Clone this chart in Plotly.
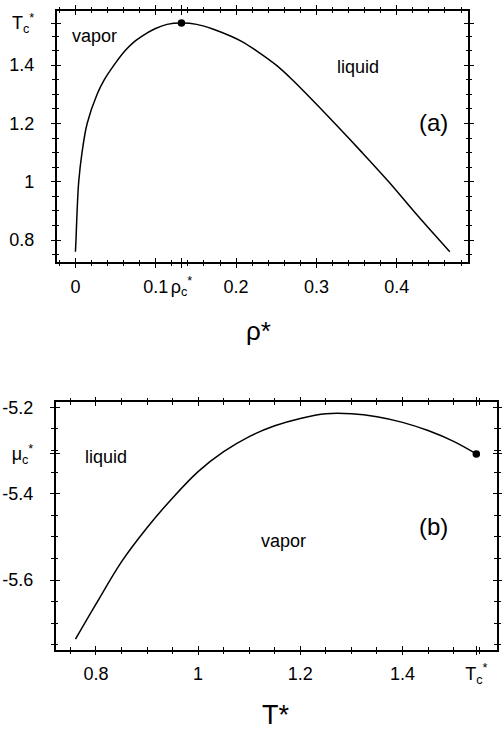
import plotly.graph_objects as go

# ---------------- data: panel (a) coexistence curve ----------------
T_coex = [0.76, 0.8, 0.9, 1.0, 1.1, 1.2, 1.3, 1.35, 1.4, 1.45, 1.48, 1.5, 1.525, 1.54, 1.5445]
rho_vapor = [0.0, 0.0007, 0.0021, 0.0041, 0.0082, 0.0146, 0.027, 0.036, 0.048, 0.062,
             0.073, 0.083, 0.099, 0.114, 0.132]
rho_liquid = [0.466, 0.453, 0.421, 0.390, 0.357, 0.323, 0.288, 0.270, 0.250, 0.225,
              0.208, 0.193, 0.170, 0.151, 0.132]
rho_crit = [0.132]
T_crit = [1.5445]

rho_tickvals = [0, 0.1, 0.132, 0.2, 0.3, 0.4]
rho_ticktext = ["0", "0.1", "ρ<sub>c</sub><sup>*</sup>", "0.2", "0.3", "0.4"]
Ta_tickvals = [0.8, 1.0, 1.2, 1.4, 1.5445]
Ta_ticktext = ["0.8", "1", "1.2", "1.4", "T<sub>c</sub><sup>*</sup>"]

# ---------------- data: panel (b) chemical potential ----------------
T_mu = [0.76, 0.8, 0.85, 0.9, 0.95, 1.0, 1.05, 1.1, 1.15, 1.2, 1.25, 1.3,
        1.35, 1.4, 1.45, 1.5, 1.5445]
mu = [-5.737, -5.656, -5.558, -5.479, -5.410, -5.349, -5.303, -5.268, -5.243,
      -5.226, -5.215, -5.215, -5.222, -5.235, -5.254, -5.279, -5.308]
mu_crit = [-5.308]

Tb_tickvals = [0.8, 1.0, 1.2, 1.4, 1.5445]
Tb_ticktext = ["0.8", "1", "1.2", "1.4", "T<sub>c</sub><sup>*</sup>"]
mu_tickvals = [-5.2, -5.308, -5.4, -5.6]
mu_ticktext = ["-5.2", "μ<sub>c</sub><sup>*</sup>", "-5.4", "-5.6"]

W, H = 502, 730
FONT = "Liberation Sans, Arial, Helvetica, sans-serif"


def minor_vals(start, stop, step, skip):
    n = int(round((stop - start) / step))
    vals = [round(start + i * step, 4) for i in range(n + 1)]
    return [v for v in vals if all(abs(v - s) > 1e-6 for s in skip)]


xa_minor = minor_vals(-0.02, 0.48, 0.02, [0, 0.1, 0.2, 0.3, 0.4])
ya_minor = minor_vals(0.75, 1.5, 0.05, [0.8, 1.0, 1.2, 1.4])
xb_minor = minor_vals(0.75, 1.55, 0.05, [0.8, 1.0, 1.2, 1.4])
yb_minor = minor_vals(-5.75, -5.2, 0.05, [-5.2, -5.4, -5.6])

curve_x = rho_vapor + rho_liquid[::-1][1:]
curve_y = T_coex + T_coex[::-1][1:]

fig = go.Figure()
fig.add_trace(go.Scatter(x=curve_x, y=curve_y, mode="lines",
                         line=dict(color="black", width=1.5, shape="spline", smoothing=1.0),
                         xaxis="x", yaxis="y", showlegend=False, hoverinfo="skip"))
fig.add_trace(go.Scatter(x=rho_crit, y=T_crit, mode="markers",
                         marker=dict(color="black", size=7.5),
                         xaxis="x", yaxis="y", showlegend=False))
fig.add_trace(go.Scatter(x=T_mu, y=mu, mode="lines",
                         line=dict(color="black", width=1.5, shape="spline", smoothing=1.0),
                         xaxis="x2", yaxis="y2", showlegend=False, hoverinfo="skip"))
fig.add_trace(go.Scatter(x=T_crit, y=mu_crit, mode="markers",
                         marker=dict(color="black", size=7.5),
                         xaxis="x2", yaxis="y2", showlegend=False))
# empty traces so the overlay (inside-tick) axes get drawn
fig.add_trace(go.Scatter(x=[None], y=[None], xaxis="x3", yaxis="y3", showlegend=False, hoverinfo="skip"))
fig.add_trace(go.Scatter(x=[None], y=[None], xaxis="x4", yaxis="y4", showlegend=False, hoverinfo="skip"))

xa_dom = [57 / W, 472 / W]
ya_dom = [1 - 259 / H, 1 - 6 / H]
xb_dom = [56 / W, 500.5 / W]
yb_dom = [1 - 649 / H, 1 - 400 / H]

xa_range = [-0.0235, 0.489]
ya_range = [0.724, 1.586]
xb_range = [0.721, 1.584]
yb_range = [-5.761, -5.1885]


def main_axis(dom, rng, tv, tt, anchor, mv, standoff):
    return dict(domain=dom, range=rng, anchor=anchor, tickmode="array",
                tickvals=tv, ticktext=tt, ticks="outside", ticklen=4, tickwidth=1.2,
                tickcolor="black", mirror="ticks", showline=True, linewidth=1.5,
                linecolor="black", showgrid=False, zeroline=False,
                tickfont=dict(family=FONT, size=18, color="black"),
                ticklabelstandoff=standoff,
                minor=dict(tickmode="array", tickvals=mv, ticks="outside",
                           ticklen=2.5, tickwidth=1, tickcolor="black", showgrid=False))


def overlay_axis(over, rng, tv, anchor, mv):
    return dict(overlaying=over, range=rng, anchor=anchor, tickmode="array",
                tickvals=tv, ticks="inside", ticklen=4, tickwidth=1.2,
                tickcolor="black", mirror="ticks", showline=False, showgrid=False,
                zeroline=False, showticklabels=False,
                minor=dict(tickmode="array", tickvals=mv, ticks="inside",
                           ticklen=2.5, tickwidth=1, tickcolor="black", showgrid=False))


fig.update_layout(
    width=W, height=H, margin=dict(l=0, r=0, t=0, b=0),
    paper_bgcolor="white", plot_bgcolor="white",
    font=dict(family=FONT, color="black"),
    xaxis=main_axis(xa_dom, xa_range, rho_tickvals, rho_ticktext, "y", xa_minor, 3),
    yaxis=main_axis(ya_dom, ya_range, Ta_tickvals, Ta_ticktext, "x", ya_minor, 13),
    xaxis2=main_axis(xb_dom, xb_range, Tb_tickvals, Tb_ticktext, "y2", xb_minor, 3),
    yaxis2=main_axis(yb_dom, yb_range, mu_tickvals, mu_ticktext, "x2", yb_minor, 13),
    xaxis3=overlay_axis("x", xa_range, rho_tickvals, "y", xa_minor),
    yaxis3=overlay_axis("y", ya_range, Ta_tickvals, "x", ya_minor),
    xaxis4=overlay_axis("x2", xb_range, Tb_tickvals, "y2", xb_minor),
    yaxis4=overlay_axis("y2", yb_range, mu_tickvals, "x2", yb_minor),
)

labels = [
    ("vapor", 0.0235, 1.501, "x", "y", 18),
    ("liquid", 0.352, 1.395, "x", "y", 18),
    ("(a)", 0.446, 1.205, "x", "y", 24),
    ("liquid", 0.82, -5.315, "x2", "y2", 18),
    ("vapor", 1.168, -5.51, "x2", "y2", 18),
    ("(b)", 1.46, -5.476, "x2", "y2", 24),
]
for txt, x, y, xr, yr, sz in labels:
    fig.add_annotation(text=txt, x=x, y=y, xref=xr, yref=yr, showarrow=False,
                       xanchor="center", yanchor="middle",
                       font=dict(family=FONT, size=sz, color="black"))

# axis titles
fig.add_annotation(text="ρ*", x=261 / W, y=1 - 328 / H, xref="paper", yref="paper",
                   showarrow=False, xanchor="center", yanchor="middle",
                   font=dict(family=FONT, size=26, color="black"))
fig.add_annotation(text="T*", x=278 / W, y=1 - 715 / H, xref="paper", yref="paper",
                   showarrow=False, xanchor="center", yanchor="middle",
                   font=dict(family=FONT, size=27, color="black"))

fig.write_html("out.html")
